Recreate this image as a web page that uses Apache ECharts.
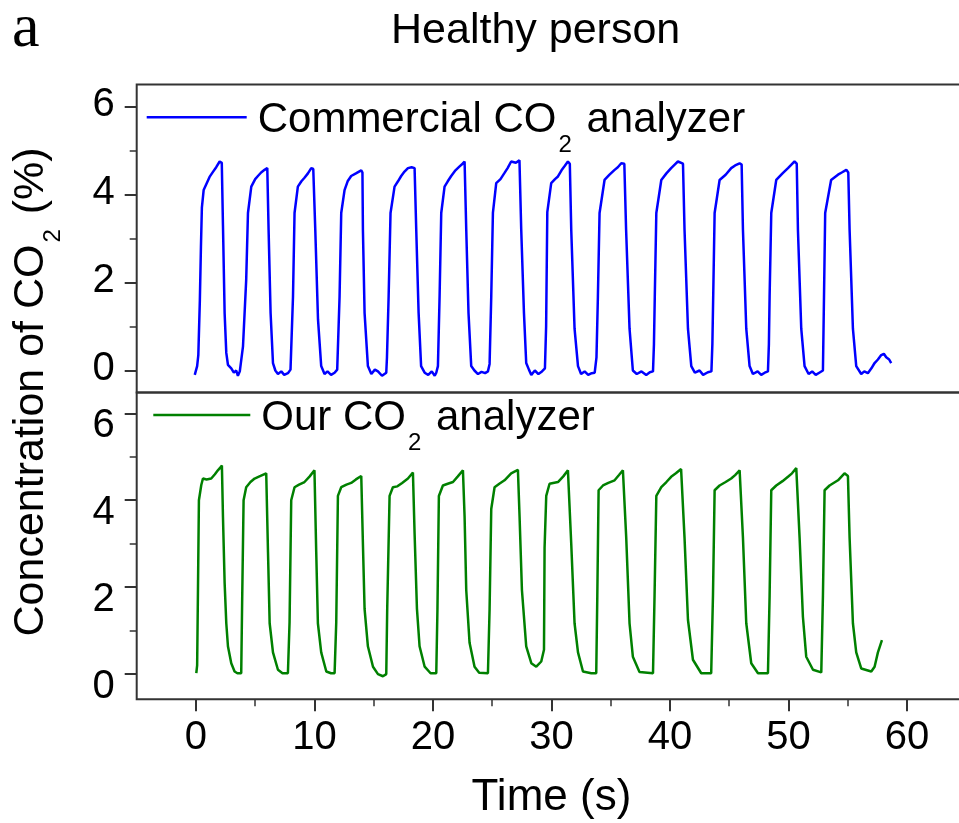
<!DOCTYPE html>
<html>
<head>
<meta charset="utf-8">
<script src="https://cdn.jsdelivr.net/npm/echarts@6/dist/echarts.min.js"></script>
<style>html,body{margin:0;padding:0;background:#fff}#c{width:959px;height:823px}</style>
</head>
<body>
<div id="c"></div>
<script>
// ---- data ----
const titleText = 'Healthy person';
const panelLetter = 'a';
const xName = 'Time (s)';
const xTicks = [0, 10, 20, 30, 40, 50, 60];
const yTicks = [0, 2, 4, 6];
const commercialName = 'Commercial CO2 analyzer';
const ourName = 'Our CO2 analyzer';

const commercialT = [-0.1,0.1,0.2,0.33,0.42,0.5,0.65,0.9,1.15,1.45,1.71,2.0,2.18,2.28,2.42,2.56,2.7,2.98,3.2,3.4,3.54,3.7,3.85,3.97,4.24,4.39,4.67,5.0,5.23,5.5,5.79,6.02,6.13,6.3,6.5,6.7,6.92,7.2,7.45,7.76,7.98,8.19,8.32,8.6,8.9,9.16,9.45,9.73,9.9,10.07,10.3,10.57,10.85,11.1,11.4,11.7,11.92,12.12,12.26,12.54,12.8,13.1,13.5,13.95,14.05,14.09,14.23,14.51,14.8,15.1,15.36,15.7,16.06,16.12,16.26,16.42,16.76,17.05,17.32,17.6,17.89,18.2,18.45,18.59,18.79,19.0,19.3,19.6,19.9,20.15,20.28,20.42,20.56,20.7,20.98,21.25,21.54,21.9,22.25,22.5,22.67,22.81,23.0,23.23,23.5,23.8,24.1,24.4,24.64,24.78,24.92,25.06,25.34,25.7,26.04,26.3,26.6,27.0,27.3,27.45,27.68,27.87,28.1,28.3,28.6,28.9,29.2,29.45,29.55,29.65,29.98,30.3,30.55,30.85,31.1,31.39,31.55,31.67,31.95,32.24,32.5,32.8,33.1,33.4,33.65,33.8,33.92,34.06,34.48,34.9,35.33,35.6,35.89,36.15,36.3,36.59,36.87,37.2,37.6,38.0,38.3,38.57,38.65,38.72,38.85,39.27,39.7,40.1,40.4,40.67,41.1,41.23,41.52,41.8,42.1,42.5,42.8,43.2,43.5,43.58,43.65,43.77,44.19,44.7,45.17,45.5,45.88,46.05,46.16,46.44,46.72,47.0,47.4,47.7,48.0,48.27,48.35,48.41,48.55,48.97,49.5,49.96,50.25,50.51,50.7,50.8,51.08,51.36,51.7,52.0,52.3,52.6,52.91,53.0,53.1,53.6,54.18,54.5,54.88,55.05,55.16,55.44,55.72,56.14,56.4,56.7,57.0,57.27,57.55,57.83,58.05,58.25,58.5,58.67];
const commercialV = [-0.1,0.1,0.35,1.6,2.8,3.7,4.1,4.25,4.4,4.52,4.62,4.75,4.72,3.3,1.3,0.4,0.13,0.05,-0.05,0.0,-0.12,-0.02,0.02,0.55,2.06,3.58,4.18,4.35,4.42,4.5,4.56,4.6,3.2,1.3,0.17,0.0,-0.08,-0.02,-0.1,-0.06,0.02,1.68,3.58,4.18,4.3,4.38,4.48,4.6,4.58,3.2,1.16,0.1,-0.08,-0.02,-0.1,-0.05,0.02,1.68,3.58,4.1,4.3,4.42,4.48,4.55,4.5,3.2,1.31,0.1,-0.08,0.02,-0.02,-0.12,-0.05,0.3,1.68,3.58,4.18,4.3,4.42,4.52,4.6,4.62,4.6,3.2,1.31,0.1,-0.05,-0.1,-0.02,-0.12,-0.05,0.1,1.68,3.58,4.18,4.3,4.42,4.55,4.64,4.7,4.75,3.2,1.31,0.1,0.0,-0.08,-0.03,-0.06,-0.02,0.15,1.68,3.58,4.26,4.35,4.49,4.6,4.75,4.72,4.78,3.2,1.31,0.17,0.02,-0.1,0.0,-0.08,-0.02,0.05,1.0,3.6,4.26,4.35,4.41,4.55,4.64,4.75,4.7,3.2,0.95,0.1,-0.08,-0.02,-0.1,-0.06,-0.05,0.3,1.68,3.58,4.33,4.45,4.56,4.62,4.71,4.7,3.2,0.95,0.0,-0.08,-0.02,-0.1,-0.04,-0.02,0.6,1.68,3.58,4.33,4.48,4.6,4.68,4.75,4.7,3.2,0.95,0.1,-0.05,0.0,-0.1,-0.04,-0.02,0.6,1.68,3.58,4.33,4.45,4.6,4.66,4.71,4.68,3.2,0.95,0.1,-0.08,-0.02,-0.1,-0.05,-0.02,0.6,1.68,3.58,4.33,4.48,4.6,4.68,4.75,4.7,3.2,0.95,0.1,-0.08,-0.02,-0.1,-0.05,0.0,1.68,3.58,4.33,4.45,4.5,4.56,4.5,3.2,0.95,0.1,-0.08,-0.02,-0.06,0.05,0.17,0.25,0.35,0.38,0.3,0.25,0.17];

const ourT = [0.03,0.1,0.17,0.25,0.45,0.59,0.9,1.29,1.6,1.85,2.05,2.19,2.28,2.42,2.56,2.7,2.98,3.26,3.5,3.82,3.9,4.02,4.24,4.6,4.95,5.45,5.93,6.08,6.22,6.5,6.92,7.3,7.76,7.9,8.04,8.32,8.7,9.16,9.6,10.0,10.15,10.29,10.57,11.0,11.4,11.7,11.84,11.98,12.26,12.7,13.1,13.5,13.95,14.09,14.23,14.51,14.94,15.36,15.78,16.06,16.14,16.34,16.62,17.0,17.4,17.89,18.31,18.45,18.65,18.87,19.3,19.8,20.28,20.38,20.5,20.84,21.25,21.69,22.1,22.53,22.67,22.81,23.09,23.51,23.9,24.64,24.78,24.92,25.2,25.6,26.04,26.6,27.17,27.31,27.51,27.87,28.3,28.72,29.14,29.37,29.42,29.56,29.84,30.55,31.0,31.39,31.67,31.95,32.24,32.66,33.36,33.78,33.87,33.98,34.35,34.8,35.33,35.7,36.03,36.31,36.59,36.87,37.43,38.57,38.7,38.85,39.27,39.7,40.1,40.5,40.94,41.23,41.52,41.94,42.64,43.48,43.63,43.77,44.19,44.7,45.17,45.5,45.88,46.16,46.44,46.86,47.43,48.27,48.41,48.55,48.97,49.5,49.96,50.3,50.66,50.94,51.22,51.5,52.07,52.77,52.91,53.05,53.47,54.18,54.73,55.02,55.16,55.44,55.72,56.14,56.99,57.27,57.55,57.89];
const ourV = [0.02,0.2,1.93,4.0,4.35,4.5,4.48,4.5,4.6,4.69,4.75,4.8,3.62,2.1,1.17,0.64,0.25,0.06,0.02,0.02,1.7,4.0,4.3,4.42,4.5,4.56,4.62,2.81,1.17,0.5,0.1,0.02,0.02,1.2,4.0,4.3,4.36,4.42,4.55,4.69,2.81,1.17,0.5,0.06,0.02,0.02,1.2,4.1,4.3,4.36,4.4,4.48,4.56,3.0,1.5,0.64,0.17,0.0,-0.05,0.0,1.5,4.1,4.3,4.32,4.4,4.5,4.64,3.24,1.5,0.64,0.17,0.02,0.02,1.5,4.1,4.34,4.38,4.42,4.55,4.69,3.62,1.93,0.72,0.17,0.03,0.02,1.5,3.8,4.3,4.38,4.46,4.62,4.7,3.62,1.93,0.64,0.25,0.17,0.29,0.56,2.9,4.1,4.38,4.42,4.55,4.69,3.0,1.17,0.5,0.06,0.02,0.02,1.8,4.23,4.34,4.4,4.46,4.58,4.69,3.14,1.17,0.4,0.05,0.02,1.8,4.1,4.3,4.42,4.54,4.62,4.72,3.14,1.25,0.33,0.02,0.02,1.8,4.23,4.34,4.42,4.5,4.58,4.69,3.14,1.17,0.25,0.02,0.02,1.8,4.23,4.34,4.44,4.54,4.62,4.74,3.14,1.32,0.4,0.1,0.04,1.8,4.23,4.34,4.46,4.62,4.56,3.14,1.17,0.5,0.13,0.06,0.17,0.5,0.78];

// ---- presentation ----
const FONT = "'Liberation Sans', Arial, Helvetica, sans-serif";
const AX = '#333';
const pairs = (t, v) => t.map((x, i) => [x, v[i]]);
const sub = (s) => s.replace(/^(.*CO)2(.*)$/, '{f|$1}{s|2}{m|$2}');
const mkRich = (fs, firstPadLeft, pm, ps) => ({
  f: {fontSize: fs, fontFamily: FONT, color: '#000', verticalAlign: 'top', lineHeight: fs, padding: [pm, 0, 0, firstPadLeft]},
  m: {fontSize: fs, fontFamily: FONT, color: '#000', verticalAlign: 'top', lineHeight: fs, padding: [pm, 0, 0, 0]},
  s: {fontSize: 24, fontFamily: FONT, color: '#000', verticalAlign: 'top', lineHeight: 24, padding: [ps, 3, 0, 2]}
});
const legendRich = mkRich(42, 6, 3, 37);
const nameRich = mkRich(43, 0, 3, 35);

const L = 136.7, PX = 11.85;            // plot left edge, px per second
const W = 70 * PX;                       // -5 .. 65 s
const hidden = (gi) => ({gridIndex: gi, type: 'value', show: false, min: 0, max: 1});

const tickAxisCommon = {
  axisLine: {show: false},
  splitLine: {show: false},
  axisTick: {show: true, inside: false, length: 12, lineStyle: {color: AX, width: 2}},
  minorTick: {show: true, splitNumber: 2, length: 7, lineStyle: {color: AX, width: 1.5}},
  axisLabel: {show: true, fontSize: 40, fontFamily: FONT, color: '#000', showMinLabel: true, showMaxLabel: true, hideOverlap: false}
};
const yLabel = (pad) => Object.assign({}, tickAxisCommon.axisLabel, {
  margin: 22, formatter: '{t|{value}}',
  rich: {t: {fontSize: 40, fontFamily: FONT, color: '#000', padding: pad}}
});

const option = {
  animation: false,
  backgroundColor: '#fff',
  title: [
    {text: titleText, left: 386, top: 5, textStyle: {fontSize: 43, fontWeight: 'normal', fontFamily: FONT, color: '#000'}},
    {text: panelLetter, left: 7, top: -6, textStyle: {fontSize: 62, fontWeight: 'normal', fontFamily: "'Liberation Serif', 'Times New Roman', serif", color: '#000'}}
  ],
  legend: [
    {data: [commercialName], left: 146.7, top: 96.3, padding: 0, itemWidth: 100, itemHeight: 2.5, icon: 'rect',
     formatter: sub, textStyle: {rich: legendRich}, selectedMode: false},
    {data: [ourName], left: 153.3, top: 394, padding: 0, itemWidth: 97, itemHeight: 2.5, icon: 'rect',
     formatter: sub, textStyle: {rich: legendRich}, selectedMode: false}
  ],
  grid: [
    {left: L, top: 84.5, width: W, height: 308, show: true, borderColor: AX, borderWidth: 2, backgroundColor: 'transparent', outerBoundsMode: 'none', containLabel: false},
    {left: L, top: 392.5, width: W, height: 306.8, show: true, borderColor: AX, borderWidth: 2, backgroundColor: 'transparent', outerBoundsMode: 'none', containLabel: false},
    {left: L, top: 106.7, width: W, height: 264, outerBoundsMode: 'none', containLabel: false},
    {left: L, top: 413.3, width: W, height: 260.7, outerBoundsMode: 'none', containLabel: false},
    {left: L + 5 * PX, top: 392.5, width: 60 * PX, height: 306.8, outerBoundsMode: 'none', containLabel: false},
    {left: L, top: 84.5, width: W, height: 614.8, outerBoundsMode: 'none', containLabel: false}
  ],
  xAxis: [
    {gridIndex: 0, type: 'value', min: -5, max: 65, axisLine: {show: false}, axisTick: {show: false}, axisLabel: {show: false}, splitLine: {show: false}},
    {gridIndex: 1, type: 'value', min: -5, max: 65, axisLine: {show: false}, axisTick: {show: false}, axisLabel: {show: false}, splitLine: {show: false},
     name: xName, nameLocation: 'middle', nameGap: 77, nameTextStyle: {fontSize: 44, fontFamily: FONT, color: '#000'}},
    hidden(2), hidden(3),
    Object.assign({gridIndex: 4, type: 'value', min: xTicks[0], max: xTicks[xTicks.length - 1], interval: xTicks[1] - xTicks[0], position: 'bottom'},
      tickAxisCommon, {axisLabel: Object.assign({}, tickAxisCommon.axisLabel, {margin: 19})}),
    hidden(5)
  ],
  yAxis: [
    {gridIndex: 0, type: 'value', min: -0.5, max: 6.5, show: false},
    {gridIndex: 1, type: 'value', min: -0.58, max: 6.48, show: false},
    Object.assign({gridIndex: 2, type: 'value', min: yTicks[0], max: yTicks[yTicks.length - 1], interval: yTicks[1] - yTicks[0], position: 'left'},
      tickAxisCommon, {axisLabel: yLabel([0, 0, 3, 0])}),
    Object.assign({gridIndex: 3, type: 'value', min: yTicks[0], max: yTicks[yTicks.length - 1], interval: yTicks[1] - yTicks[0], position: 'left'},
      tickAxisCommon, {axisLabel: yLabel([25, 0, 0, 0])}),
    hidden(4),
    {gridIndex: 5, type: 'value', min: 0, max: 1, position: 'left', axisLine: {show: false}, axisTick: {show: false}, axisLabel: {show: false}, splitLine: {show: false},
     name: '{f|Concentration of CO}{s|2}{m| (%)}', nameLocation: 'middle', nameRotate: 90, nameGap: 87,
     nameTextStyle: {rich: nameRich}}
  ],
  series: [
    {name: commercialName, type: 'line', xAxisIndex: 0, yAxisIndex: 0, data: pairs(commercialT, commercialV),
     symbol: 'none', lineStyle: {color: '#0000ff', width: 2.5}, itemStyle: {color: '#0000ff'}},
    {name: ourName, type: 'line', xAxisIndex: 1, yAxisIndex: 1, data: pairs(ourT, ourV),
     symbol: 'none', lineStyle: {color: '#008000', width: 2.5}, itemStyle: {color: '#008000'}}
  ]
};
const chart = echarts.init(document.getElementById('c'), null, {renderer: 'canvas'});
chart.setOption(option);
</script>
</body>
</html>
